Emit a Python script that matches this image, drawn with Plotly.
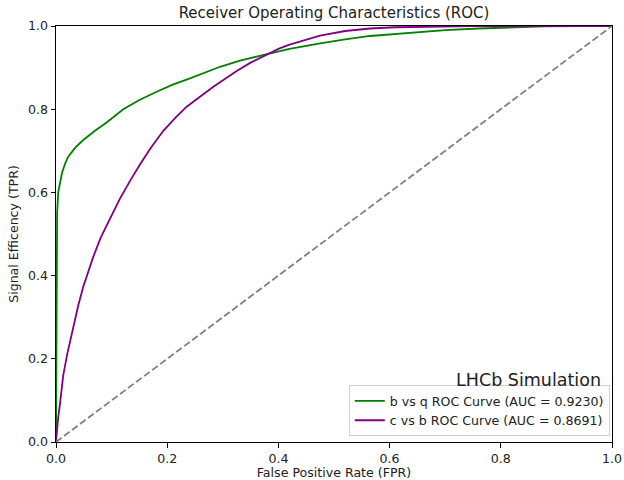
import plotly.graph_objects as go

# b vs q ROC curve (FPR, TPR)
bq_fpr = [0.0, 0.0003, 0.0007, 0.001, 0.002, 0.004, 0.007, 0.011, 0.016, 0.022, 0.035, 0.049,
          0.07, 0.091, 0.121, 0.15, 0.181, 0.21, 0.241, 0.27, 0.295, 0.331, 0.376, 0.42,
          0.475, 0.52, 0.565, 0.637, 0.7, 0.76, 0.817, 0.88, 0.94, 1.0]
bq_tpr = [0.0, 0.25, 0.42, 0.5, 0.55, 0.6, 0.625, 0.648, 0.668, 0.686, 0.708, 0.726,
          0.748, 0.768, 0.800, 0.822, 0.842, 0.859, 0.874, 0.889, 0.902, 0.917, 0.932, 0.945,
          0.958, 0.968, 0.976, 0.984, 0.99, 0.994, 0.997, 0.999, 1.0, 1.0]

# c vs b ROC curve (FPR, TPR)
cb_fpr = [0.0, 0.001, 0.002, 0.004, 0.007, 0.01, 0.013, 0.02, 0.031, 0.04, 0.049, 0.067,
          0.08, 0.094, 0.105, 0.115, 0.125, 0.135, 0.151, 0.17, 0.193, 0.215, 0.235, 0.26, 0.283, 0.305,
          0.325, 0.35, 0.376, 0.4, 0.42, 0.45, 0.475, 0.52, 0.565, 0.61, 0.655, 0.75, 0.85, 1.0]
cb_tpr = [0.0, 0.02, 0.04, 0.06, 0.09, 0.13, 0.16, 0.21, 0.277, 0.328, 0.373, 0.445,
          0.49, 0.53, 0.558, 0.585, 0.61, 0.632, 0.667, 0.706, 0.748, 0.78, 0.806, 0.832, 0.854, 0.874,
          0.892, 0.912, 0.93, 0.945, 0.955, 0.968, 0.977, 0.988, 0.994, 0.997, 0.998, 0.9995, 1.0, 1.0]

diag = [0.0, 1.0]

labels = ["b vs q ROC Curve (AUC = 0.9230)", "c vs b ROC Curve (AUC = 0.8691)"]
tickvals = [0.0, 0.2, 0.4, 0.6, 0.8, 1.0]

FONT = "DejaVu Sans"
FS = 12.6

fig = go.Figure()
fig.add_trace(go.Scatter(x=bq_fpr, y=bq_tpr, mode="lines", name=labels[0],
                         line=dict(color="green", width=1.8)))
fig.add_trace(go.Scatter(x=cb_fpr, y=cb_tpr, mode="lines", name=labels[1],
                         line=dict(color="purple", width=1.8)))
fig.add_trace(go.Scatter(x=diag, y=diag, mode="lines", showlegend=False,
                         line=dict(color="gray", width=1.8, dash="7px,3px")))

axis_common = dict(range=[0, 1], showgrid=False, zeroline=False, showline=True,
                   linecolor="black", linewidth=1, mirror=True, ticks="outside",
                   ticklen=4.5, tickcolor="black", tickvals=tickvals, tickformat=".1f",
                   automargin=False,
                   tickfont=dict(family=FONT, size=FS, color="#222"))

fig.update_layout(
    width=624, height=480,
    margin=dict(l=56, r=12, t=26, b=38),
    paper_bgcolor="white", plot_bgcolor="white",
    font=dict(family=FONT, color="#222"),
    title=dict(text="Receiver Operating Characteristics (ROC)", x=0.5 * (56 + 612) / 624,
               xanchor="center", y=1 - 13 / 480, yanchor="middle",
               font=dict(family=FONT, size=15, color="#222")),
    xaxis=dict(axis_common, title=dict(text="False Positive Rate (FPR)", standoff=7,
                                       font=dict(family=FONT, size=FS, color="#222"))),
    yaxis=dict(axis_common, title=dict(text="Signal Efficency (TPR)", standoff=6,
                                       font=dict(family=FONT, size=FS, color="#222"))),
    legend=dict(x=0.996, y=0.014, xanchor="right", yanchor="bottom",
                bgcolor="rgba(255,255,255,0.8)", bordercolor="#d0d0d0", borderwidth=1,
                font=dict(family=FONT, size=FS, color="#222"), tracegroupgap=0,
                itemwidth=30),
    annotations=[dict(text="LHCb Simulation", x=0.983, y=0.149, xref="paper", yref="paper",
                      xanchor="right", yanchor="middle", showarrow=False,
                      font=dict(family=FONT, size=17.5, color="#222"))],
)

fig.write_html("out.html")
